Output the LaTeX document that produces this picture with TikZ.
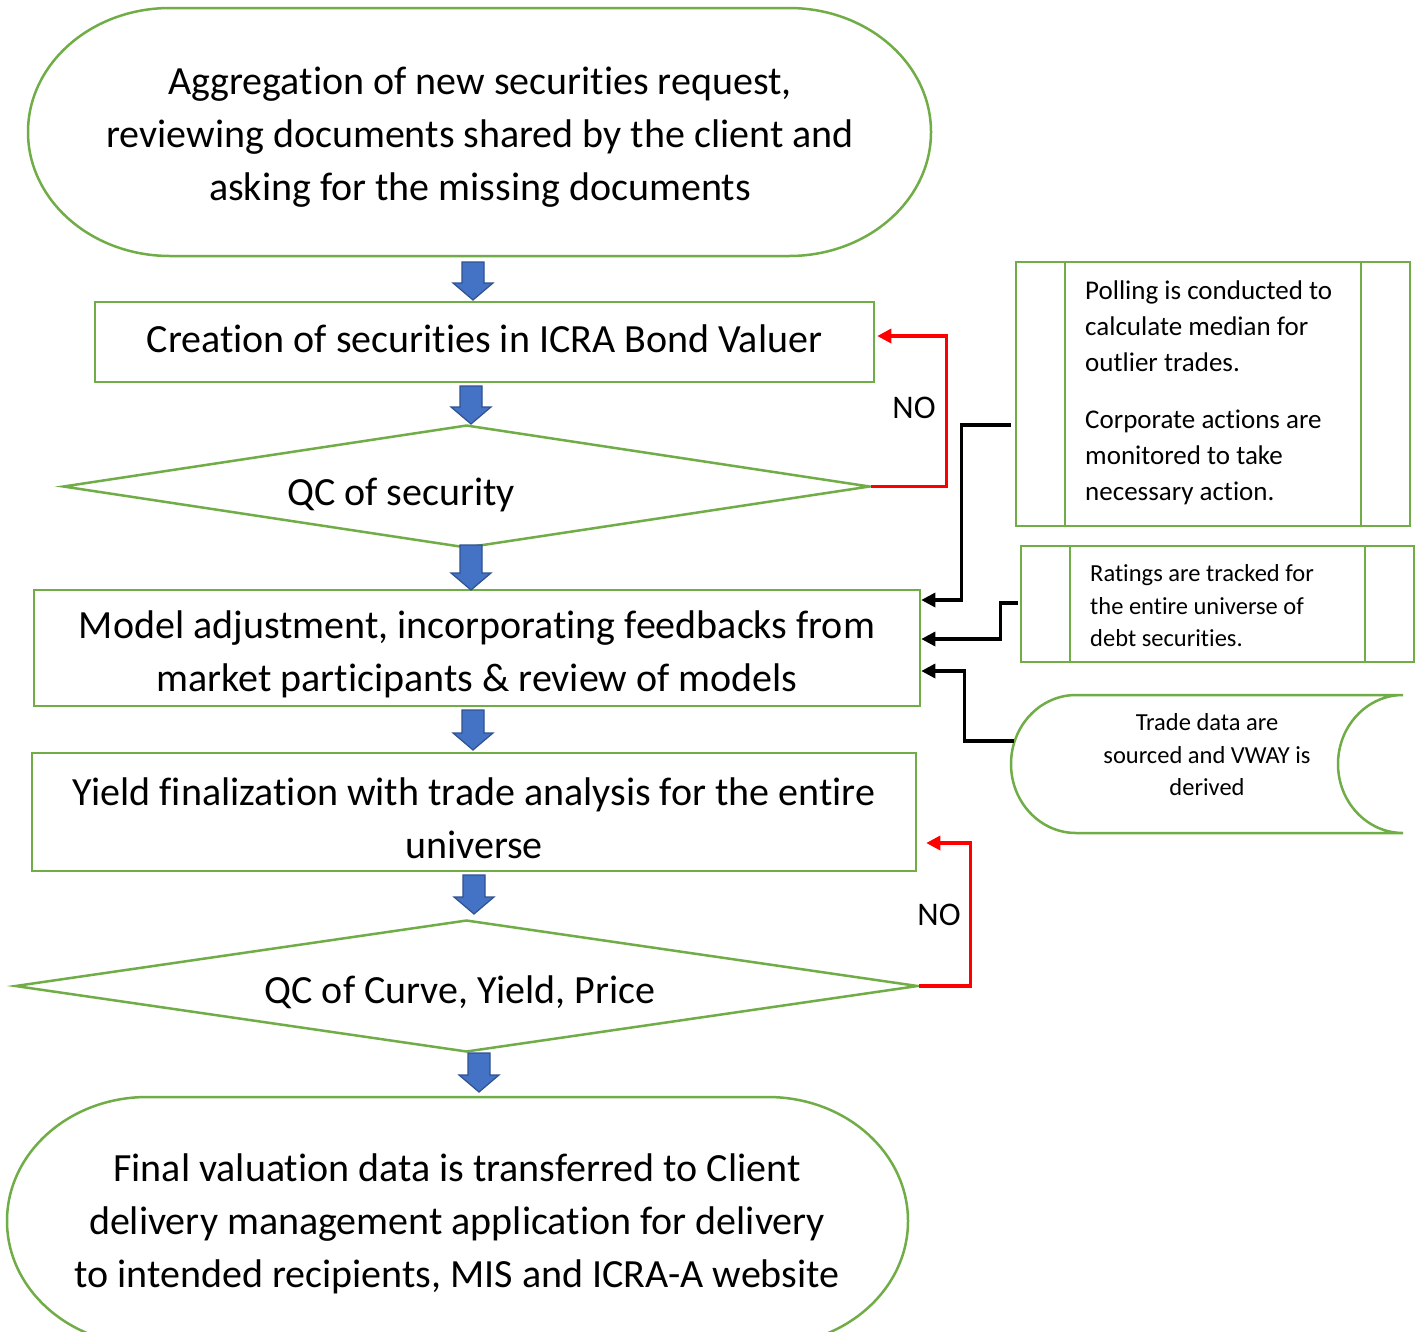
\documentclass[tikz,border=0pt]{standalone}
\usepackage{fontspec}
\setmainfont{Carlito}[Ligatures={NoCommon}]
\usetikzlibrary{shapes.geometric,arrows.meta,calc}
\definecolor{grn}{HTML}{70AD47}
\definecolor{blu}{HTML}{4472C4}
\definecolor{bluedge}{HTML}{2F528F}
\newcommand\blkarrow[3]{\draw[barrowsty] (#1-11,#2) -- (#1+11,#2) -- (#1+11,#3-17) -- (#1+20,#3-17) -- (#1,#3) -- (#1-20,#3-17) -- (#1-11,#3-17) -- cycle;}
\begin{document}
\begin{tikzpicture}[x=1pt,y=-1pt,
  gline/.style={draw=grn,line width=2.5pt},
  procbox/.style={gline,rectangle,inner sep=0pt},
  decbox/.style={gline,diamond,inner sep=0pt},
  bigtext/.style={align=center,font=\fontsize{40}{53}\selectfont,inner sep=0pt},
  sidetext/.style={align=left,inner sep=0pt},
  barrowsty/.style={fill=blu,draw=bluedge,line width=1.2pt,line join=miter},
  redconn/.style={draw=red,line width=3.3pt,-{Triangle[length=14pt,width=14pt]}},
  blkconn/.style={draw=black,line width=3.2pt,-{Triangle[length=14pt,width=14pt]}},
  nolabel/.style={font=\fontsize{33}{40}\selectfont,inner sep=0pt}
]
\useasboundingbox (0,0) rectangle (1423,1331);
\clip (0,0) rectangle (1423,1331);
\fill[white] (0,0) rectangle (1423,1331);

% top terminal
\draw[gline] (170,8) -- (789,8) arc[start angle=-90,end angle=90,x radius=142,y radius=124] -- (170,256) arc[start angle=90,end angle=270,x radius=142,y radius=124] -- cycle;
\node[bigtext] (t1) at (480,137) {Aggregation of new securities request,\\reviewing documents shared by the client and\\asking for the missing documents};

% process boxes
\node[procbox,minimum width=779pt,minimum height=80pt] (b1) at (484.5,342) {};
\node[bigtext] (b1t) at (484.5,339) {Creation of securities in ICRA Bond Valuer};
\node[procbox,minimum width=886pt,minimum height=116pt] (b3) at (477,648) {};
\node[bigtext] (b3t) at (477,654.5) {Model adjustment, incorporating feedbacks from\\market participants \& review of models};
\node[procbox,minimum width=884pt,minimum height=118pt] (b4) at (474,812) {};
\node[bigtext] (b4t) at (474,818) {Yield finalization with trade analysis for the entire\\universe};

% decisions
\node[decbox,minimum width=807pt,minimum height=123pt] (d1) at (466.5,486.5) {};
\node[bigtext] (d1t) at (401,495) {QC of security};
\node[decbox,minimum width=903pt,minimum height=132pt] (d2) at (466.5,986) {};
\node[bigtext] (d2t) at (460,992) {QC of Curve, Yield, Price};

% bottom terminal
\draw[gline] (147,1097) -- (768,1097) arc[start angle=-90,end angle=90,x radius=140,y radius=124] -- (147,1345) arc[start angle=90,end angle=270,x radius=140,y radius=124] -- cycle;
\node[bigtext] (t2) at (457,1224) {Final valuation data is transferred to Client\\delivery management application for delivery\\to intended recipients, MIS and ICRA-A website};

% side boxes
\node[gline,rectangle,minimum width=394pt,minimum height=264pt,inner sep=0pt] (p1) at (1213,394) {};
\draw[gline] (1065,262) -- (1065,526);
\draw[gline] (1361,262) -- (1361,526);
\node[sidetext,anchor=west,font=\fontsize{27}{36}\selectfont] (p1t) at (1085,392.5) {Polling is conducted to\\calculate median for\\outlier trades.\\[21pt]Corporate actions are\\monitored to take\\necessary action.};

\node[gline,rectangle,minimum width=393pt,minimum height=116pt,inner sep=0pt] (p2) at (1217.5,604) {};
\draw[gline] (1070,546) -- (1070,662);
\draw[gline] (1365,546) -- (1365,662);
\node[sidetext,anchor=west,font=\fontsize{24.5}{32.5}\selectfont] (p2t) at (1090,606) {Ratings are tracked for\\the entire universe of\\debt securities.};

\node[minimum width=392pt,minimum height=138pt,inner sep=0pt] (s) at (1207,764) {};
\draw[gline] (1076,695) -- (1403,695) arc[start angle=-90,end angle=-270,x radius=65,y radius=69] -- (1076,833) arc[start angle=90,end angle=270,x radius=65,y radius=69] -- cycle;
\node[align=center,inner sep=0pt,font=\fontsize{24.5}{32.5}\selectfont] (st) at (1207,755) {Trade data are\\sourced and VWAY is\\derived};

% connectors
\draw[redconn] (d1.east) -- ++(75,0) |- ($(b1.east)+(2,-6)$);
\node[nolabel] (no1) at (914,408) {NO};
\draw[redconn] (d2.east) -- ++(51,0) |- ($(b4.east)+(9,31)$);
\node[nolabel] (no2) at (939,915) {NO};

\draw[blkconn] ($(p1.west)+(-4,31)$) -- ++(-49,0) |- ($(b3.east)+(0,-48)$);
\draw[blkconn] ($(p2.west)+(-2,-1)$) -- ++(-17,0) |- ($(b3.east)+(0,-9)$);
\draw[blkconn] ($(s.west)+(3,-23)$) -- ++(-49,0) |- ($(b3.east)+(0,23)$);

% block arrows
\blkarrow{473}{262}{300}
\blkarrow{471}{386}{424}
\blkarrow{471}{545}{590}
\blkarrow{473}{710}{750}
\blkarrow{474}{875}{914}
\blkarrow{479}{1053}{1092}
\end{tikzpicture}
\end{document}
